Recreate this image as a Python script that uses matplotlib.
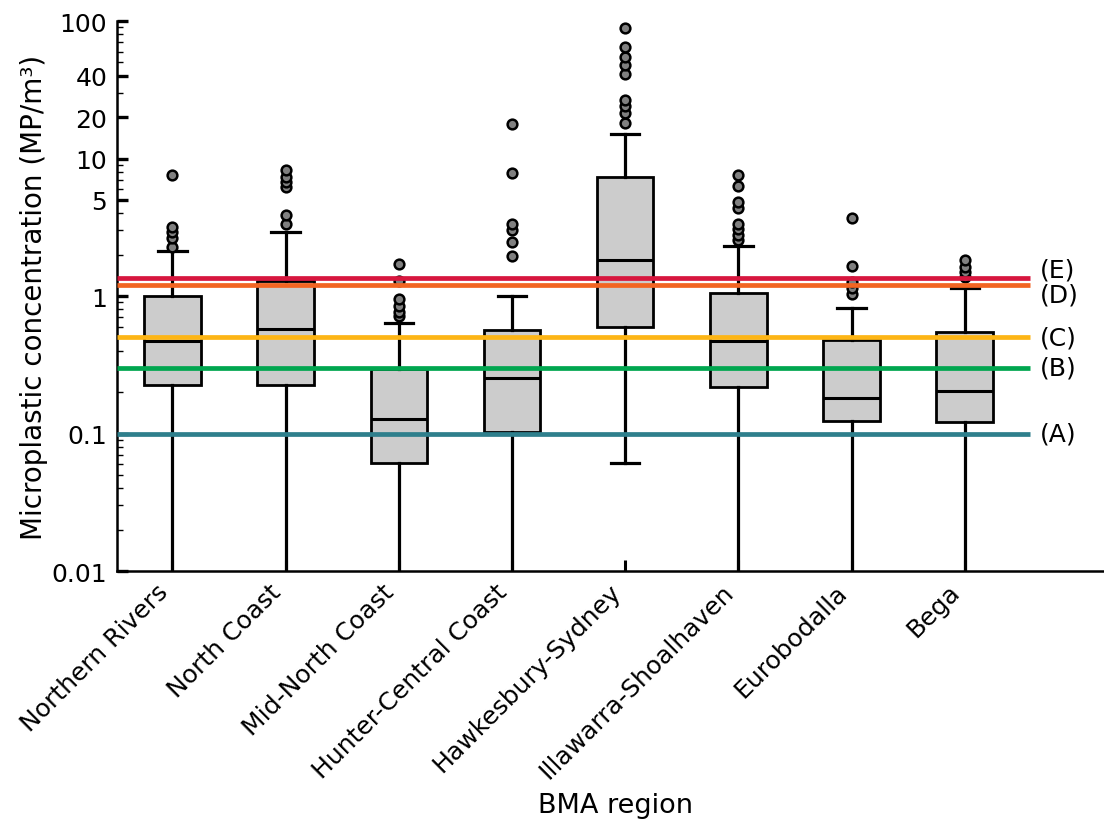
import matplotlib
matplotlib.use("Agg")
import matplotlib.pyplot as plt
from matplotlib.ticker import FixedLocator, LogLocator, NullFormatter, FixedFormatter

# ---------------- data ----------------
regions = ["Northern Rivers", "North Coast", "Mid-North Coast", "Hunter-Central Coast",
           "Hawkesbury-Sydney", "Illawarra-Shoalhaven", "Eurobodalla", "Bega"]
q1 = [0.226, 0.226, 0.0607, 0.103, 0.598, 0.219, 0.123, 0.1205]
medians = [0.468, 0.573, 0.127, 0.252, 1.83, 0.468, 0.182, 0.205]
q3 = [1.0, 1.28, 0.294, 0.566, 7.38, 1.06, 0.481, 0.545]
whisker_low = [0.0001, 0.0001, 0.0001, 0.0001, 0.0607, 0.0001, 0.0001, 0.0001]
whisker_high = [2.12, 2.92, 0.632, 1.0, 15.1, 2.31, 0.814, 1.14]
outliers = [
    [2.27, 2.63, 2.9, 3.2, 7.6],
    [3.35, 3.85, 6.2, 6.7, 7.3, 8.2],
    [0.71, 0.76, 0.84, 0.95, 1.28, 1.70],
    [1.94, 2.48, 3.02, 3.34, 7.86, 17.8],
    [18.0, 21.3, 24.0, 26.8, 41.4, 48.0, 55.0, 64.4, 88.5],
    [2.56, 2.8, 3.07, 3.34, 4.36, 4.80, 6.28, 7.59],
    [1.03, 1.14, 1.26, 1.66, 3.67],
    [1.37, 1.49, 1.62, 1.84],
]
thresholds = [0.1, 0.3, 0.5, 1.2, 1.35]
threshold_labels = ["(A)", "(B)", "(C)", "(D)", "(E)"]
threshold_colors = ["#2E7F8C", "#00A64F", "#FDB515", "#F26522", "#D7163E"]
label_offsets = [0, 0, 0, -7, 6]
yticks = [0.01, 0.1, 1, 5, 10, 20, 40, 100]
ytick_labels = ["0.01", "0.1", "1", "5", "10", "20", "40", "100"]

# ---------------- figure ----------------
W, H = 1104, 828
fig = plt.figure(figsize=(W / 100, H / 100), dpi=100)
left, right, bottom, top = 117, 1113, 572, 22
ax = fig.add_axes([left / W, (H - bottom) / H, (right - left) / W, (bottom - top) / H])

stats = []
for i, name in enumerate(regions):
    stats.append(dict(label=name, q1=q1[i], med=medians[i], q3=q3[i],
                      whislo=whisker_low[i], whishi=whisker_high[i], fliers=outliers[i]))

positions = list(range(len(regions)))
ax.set_yscale("log")
ax.bxp(stats, positions=positions, widths=0.5, patch_artist=True, showfliers=True,
       boxprops=dict(facecolor="#cccccc", edgecolor="black", linewidth=2.0),
       medianprops=dict(color="black", linewidth=2.2),
       whiskerprops=dict(color="black", linewidth=2.3),
       capprops=dict(color="black", linewidth=2.3),
       flierprops=dict(marker="o", markerfacecolor="#808080", markeredgecolor="black",
                       markersize=7, markeredgewidth=1.8))

xmin, xmax = -0.49, 8.31
ax.set_xlim(xmin, xmax)
ax.set_ylim(0.01, 100)

line_end = 7.58
for val, lab, col, off in zip(thresholds, threshold_labels, threshold_colors, label_offsets):
    ax.plot([xmin, line_end], [val, val], color=col, linewidth=3.4, zorder=5,
            solid_capstyle="butt")
    ax.annotate(lab, xy=(line_end + 0.08, val), xytext=(0, off), textcoords="offset points",
                fontsize=18, va="center", ha="left")

ax.spines["top"].set_visible(False)
ax.spines["right"].set_visible(False)
for s in ["left", "bottom"]:
    ax.spines[s].set_linewidth(1.8)

ax.yaxis.set_major_locator(FixedLocator(yticks))
ax.yaxis.set_major_formatter(FixedFormatter(ytick_labels))
ax.yaxis.set_minor_locator(LogLocator(base=10, subs=range(2, 10), numticks=20))
ax.yaxis.set_minor_formatter(NullFormatter())
ax.tick_params(axis="y", which="major", direction="in", length=8, width=2.4, labelsize=18, pad=7)
ax.tick_params(axis="y", which="minor", direction="in", length=4, width=1.0)

ax.set_xticks(positions)
ax.set_xticklabels(regions, rotation=45, ha="right", fontsize=18)
ax.tick_params(axis="x", which="major", direction="in", length=8, width=2.2, pad=6)

ax.set_ylabel("Microplastic concentration (MP/m³)", fontsize=20)
ax.set_xlabel("BMA region", fontsize=19.5)
ax.yaxis.set_label_coords((48 - left) / (right - left), 0.5)
ax.xaxis.set_label_coords(0.5, (bottom - 793) / (bottom - top))

fig.savefig("out.png", dpi=100)
